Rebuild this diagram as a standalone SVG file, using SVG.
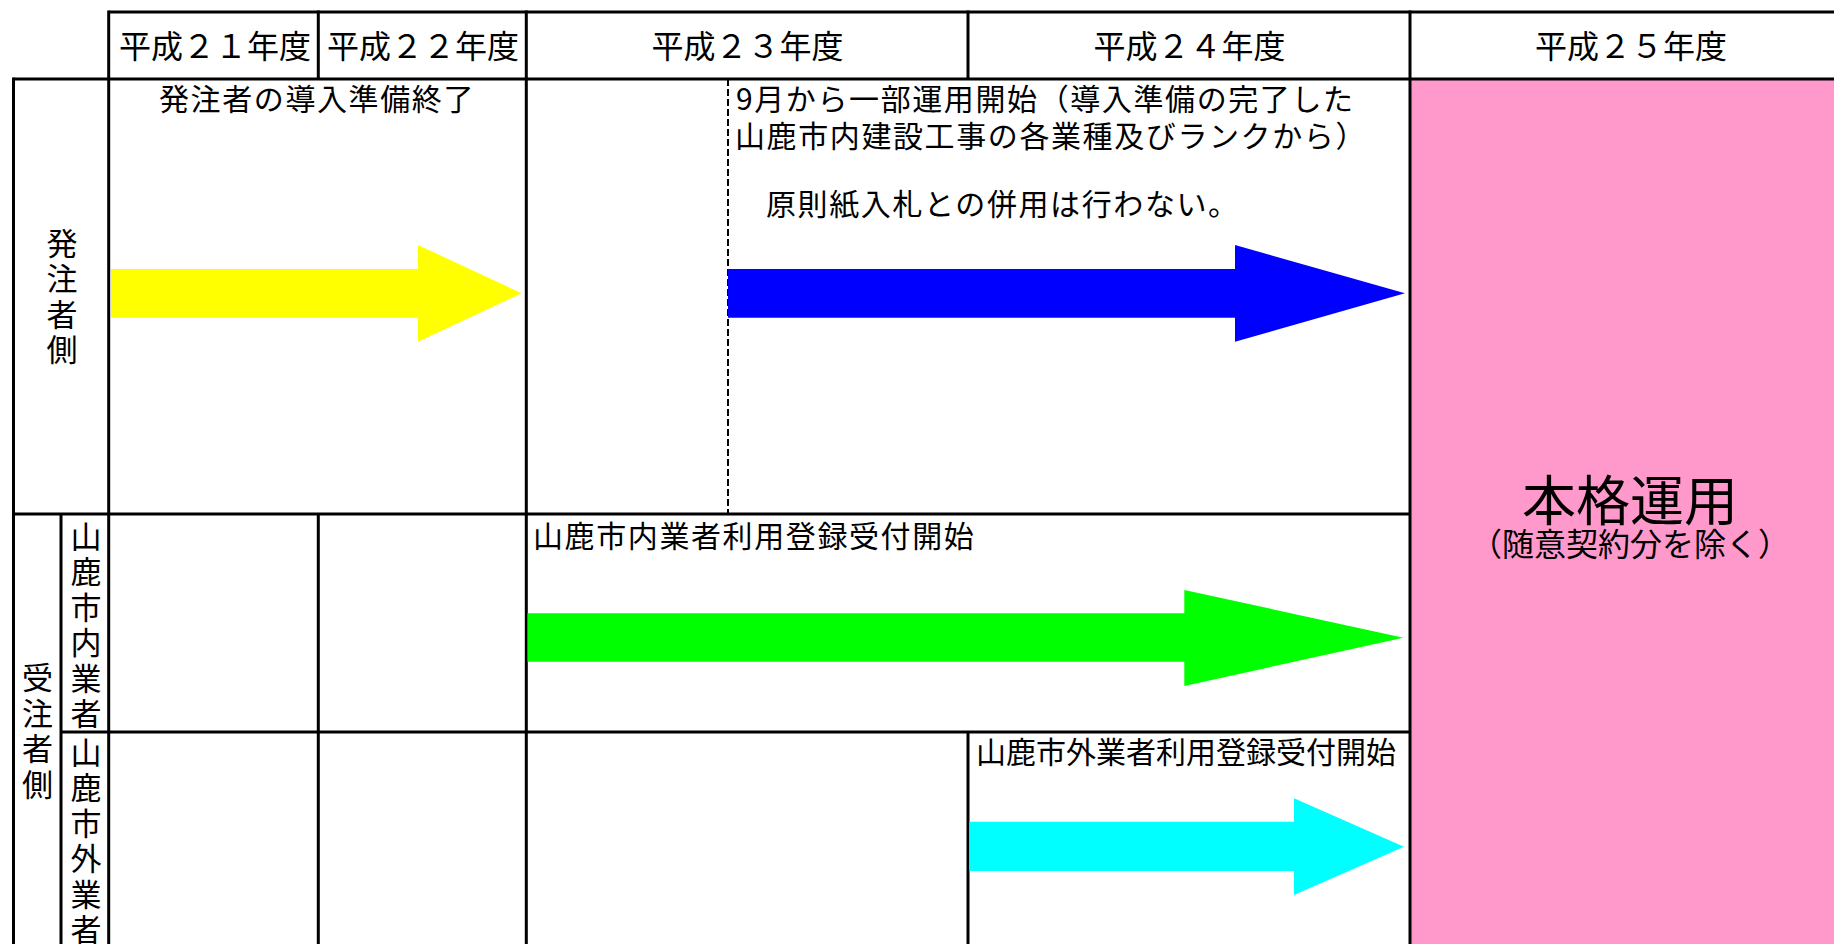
<svg xmlns="http://www.w3.org/2000/svg" width="1834" height="944" viewBox="0 0 1834 944">
<style>
.ln{stroke:#000;stroke-width:3;fill:none}
.dash{stroke:#000;stroke-width:2;stroke-dasharray:7 3;fill:none}
text{font-family:"Noto Sans CJK JP","Noto Sans CJK SC",sans-serif;fill:#000}
.hd{font-size:32px;text-anchor:middle}
.bd{font-size:30px;letter-spacing:1.6px}
.vt{font-size:31px;writing-mode:vertical-rl;letter-spacing:4.5px}
</style>
<rect width="1834" height="944" fill="#fff"/>
<rect id="pink" x="1410" y="79" width="424" height="865" fill="#FF99CC"/>
<g id="grid">
<path class="ln" d="M108.7 12H1834M13.5 79H1834M13.5 514H1410M61 732H1410"/>
<path class="ln" d="M108.7 10.5V944M318.3 10.5V79M318.3 514V944M526.3 10.5V944M968 10.5V79M968 732V944M1410 10.5V944M13.5 77.5V944M61 514V944"/>
<path class="dash" d="M728 79V514"/>
</g>
<g id="header">
<text id="h21" class="hd" x="215" y="58">平成２１年度</text>
<text id="h22" class="hd" x="423" y="58">平成２２年度</text>
<text id="h23" class="hd" x="747.5" y="58">平成２３年度</text>
<text id="h24" class="hd" x="1189.5" y="58">平成２４年度</text>
<text id="h25" class="hd" x="1631" y="58">平成２５年度</text>
</g>
<g id="label-hacchu">
<text class="vt" x="62" y="227.5">発注者側</text>
</g>
<g id="label-juchu">
<text class="vt" x="37.5" y="662">受注者側</text>
</g>
<g id="label-shinai">
<text class="vt" x="86" y="520.5">山鹿市内業者</text>
</g>
<g id="label-shigai">
<text class="vt" x="86" y="736.5">山鹿市外業者</text>
</g>
<g id="note-prep">
<text class="bd" x="317" y="110" text-anchor="middle">発注者の導入準備終了</text>
</g>
<g id="note-partial">
<text class="bd" x="736" y="110">9月から一部運用開始（導入準備の完了した</text>
<text class="bd" x="735" y="146.5">山鹿市内建設工事の各業種及びランクから）</text>
<text class="bd" x="766" y="215">原則紙入札との併用は行わない。</text>
</g>
<g id="note-shinai">
<text class="bd" x="533" y="546.5">山鹿市内業者利用登録受付開始</text>
</g>
<g id="note-shigai">
<text class="bd" x="976" y="763" style="letter-spacing:0">山鹿市外業者利用登録受付開始</text>
</g>
<g id="full-operation">
<text x="1630" y="521" font-size="54" text-anchor="middle">本格運用</text>
<text x="1630" y="556" font-size="32" text-anchor="middle">（随意契約分を除く）</text>
</g>
<g id="connectors">
<polygon id="arrow-yellow" fill="#FFFF00" points="111,269 418,269 418,245 521.7,293.3 418,341.7 418,317.7 111,317.7"/>
<polygon id="arrow-blue" fill="#0000FF" points="728,269 1235,269 1235,245 1405,293.3 1235,341.7 1235,317.7 728,317.7"/>
<polygon id="arrow-green" fill="#00FF00" points="527.5,613.3 1184.3,613.3 1184.3,590 1403.3,637.7 1184.3,686 1184.3,661.7 527.5,661.7"/>
<polygon id="arrow-cyan" fill="#00FFFF" points="969.3,821.7 1294,821.7 1294,798.3 1404,846.7 1294,895 1294,871 969.3,871"/>
</g>
</svg>
